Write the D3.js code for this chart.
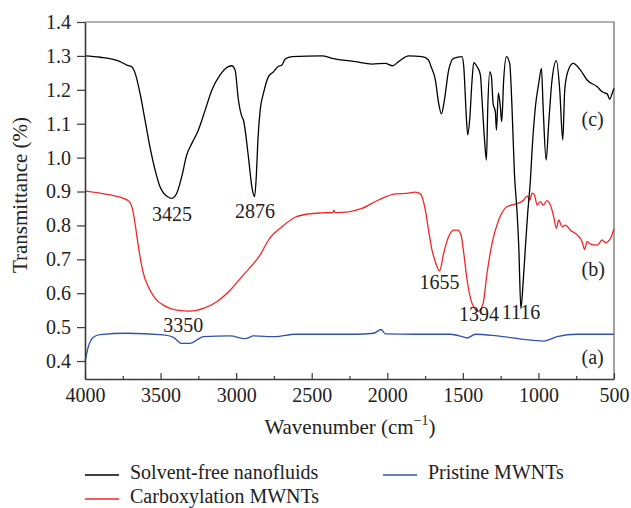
<!DOCTYPE html>
<html>
<head>
<meta charset="utf-8">
<script src="https://cdn.jsdelivr.net/npm/d3@7"></script>
<style>
  body { margin: 0; background: #fff; }
  text { font-family: "Liberation Serif", "Times New Roman", serif; fill: #222; }
</style>
</head>
<body>
<div class="canvas"></div>
<script>
// Spectrum (c) solvent-free nanofluids
const wnC = [4000, 3900, 3768, 3724, 3691, 3669, 3636, 3603, 3570, 3536, 3503, 3448, 3426, 3393, 3360, 3327, 3293, 3250, 3205, 3161, 3106, 3062, 3029, 3007, 2985, 2962, 2952, 2919, 2896, 2878, 2866, 2856, 2841, 2819, 2786, 2753, 2724, 2697, 2675, 2631, 2432, 2366, 2212, 2101, 2013, 1965, 1925, 1859, 1770, 1727, 1712, 1682, 1660, 1642, 1622, 1594, 1561, 1505, 1494, 1477, 1468, 1455, 1439, 1428, 1406, 1384, 1373, 1358, 1344, 1335, 1322, 1311, 1300, 1285, 1278, 1265, 1252, 1243, 1230, 1212, 1190, 1175, 1159, 1141, 1130, 1116, 1100, 1086, 1071, 1053, 1042, 1020, 998, 980, 969, 949, 932, 910, 881, 859, 839, 826, 806, 770, 722, 678, 611, 578, 545, 528, 512, 500];
const tC = [1.300, 1.296, 1.283, 1.273, 1.268, 1.250, 1.190, 1.111, 1.031, 0.963, 0.913, 0.883, 0.880, 0.895, 0.944, 1.008, 1.042, 1.081, 1.140, 1.199, 1.244, 1.266, 1.271, 1.258, 1.170, 1.121, 1.111, 1.003, 0.914, 0.885, 0.950, 1.052, 1.140, 1.190, 1.239, 1.253, 1.268, 1.273, 1.291, 1.298, 1.300, 1.293, 1.283, 1.276, 1.278, 1.271, 1.283, 1.300, 1.298, 1.288, 1.270, 1.229, 1.160, 1.129, 1.170, 1.258, 1.293, 1.298, 1.268, 1.121, 1.067, 1.111, 1.229, 1.280, 1.268, 1.244, 1.170, 1.062, 0.993, 1.150, 1.253, 1.239, 1.160, 1.135, 1.081, 1.191, 1.150, 1.106, 1.229, 1.298, 1.278, 1.150, 0.955, 0.836, 0.737, 0.555, 0.640, 0.737, 0.836, 0.934, 1.022, 1.150, 1.219, 1.263, 1.150, 0.993, 1.101, 1.229, 1.286, 1.199, 1.052, 1.199, 1.253, 1.278, 1.258, 1.229, 1.209, 1.194, 1.188, 1.172, 1.190, 1.204];

// Spectrum (b) carboxylation MWNTs
const wnB = [4000, 3901, 3812, 3746, 3707, 3684, 3669, 3653, 3636, 3614, 3581, 3536, 3470, 3393, 3305, 3217, 3128, 3040, 2952, 2880, 2841, 2786, 2697, 2609, 2521, 2432, 2360, 2353, 2345, 2256, 2168, 2058, 1947, 1859, 1815, 1781, 1748, 1727, 1704, 1680, 1654, 1627, 1594, 1561, 1534, 1512, 1494, 1472, 1439, 1395, 1366, 1340, 1307, 1263, 1208, 1152, 1097, 1075, 1057, 1042, 1026, 1009, 987, 969, 943, 921, 899, 881, 866, 843, 821, 788, 744, 711, 695, 678, 656, 611, 578, 556, 523, 500];
const tB = [0.901, 0.895, 0.888, 0.880, 0.870, 0.845, 0.806, 0.757, 0.708, 0.659, 0.619, 0.585, 0.562, 0.550, 0.547, 0.555, 0.575, 0.609, 0.654, 0.690, 0.713, 0.757, 0.796, 0.824, 0.834, 0.837, 0.838, 0.845, 0.838, 0.840, 0.850, 0.875, 0.893, 0.895, 0.898, 0.893, 0.845, 0.786, 0.727, 0.690, 0.666, 0.718, 0.767, 0.786, 0.786, 0.772, 0.718, 0.639, 0.570, 0.547, 0.570, 0.659, 0.747, 0.816, 0.855, 0.863, 0.875, 0.887, 0.875, 0.895, 0.890, 0.860, 0.870, 0.860, 0.873, 0.860, 0.826, 0.791, 0.816, 0.796, 0.801, 0.786, 0.772, 0.752, 0.729, 0.752, 0.745, 0.742, 0.757, 0.749, 0.762, 0.791];

// Spectrum (a) pristine MWNTs
const wnA = [4000, 3978, 3945, 3901, 3724, 3481, 3415, 3360, 3305, 3260, 3217, 3040, 2940, 2885, 2742, 2609, 2212, 2091, 2040, 2013, 1815, 1583, 1505, 1472, 1417, 1274, 1097, 965, 876, 744, 500];
const tA = [0.398, 0.442, 0.470, 0.478, 0.482, 0.477, 0.470, 0.452, 0.452, 0.462, 0.472, 0.474, 0.466, 0.474, 0.472, 0.479, 0.479, 0.482, 0.493, 0.480, 0.479, 0.479, 0.472, 0.468, 0.479, 0.474, 0.464, 0.459, 0.472, 0.479, 0.479];

const seriesNames = ['Solvent-free nanofluids', 'Carboxylation MWNTs', 'Pristine MWNTs'];
const seriesColors = ['#000000', '#f32626', '#2f53ad'];

const xTicks = [4000, 3500, 3000, 2500, 2000, 1500, 1000, 500];
const xMinor = [3750, 3250, 2750, 2250, 1750, 1250, 750];
const yTicks = [0.4, 0.5, 0.6, 0.7, 0.8, 0.9, 1.0, 1.1, 1.2, 1.3, 1.4];

// peak labels: text, wavenumber position, transmittance position
const peakText = ['3425', '2876', '3350', '1655', '1394', '1116'];
const peakWn = [3425, 2876, 3350, 1655, 1394, 1116];
const peakT = [0.812, 0.823, 0.485, 0.613, 0.518, 0.524];

const curveTags = ['(c)', '(b)', '(a)'];
const curveTagT = [1.094, 0.651, 0.392];

const width = 631, height = 508;
const margin = { top: 22, right: 17, bottom: 129, left: 85 };
const fontSize = 20;

const svg = d3.select('.canvas')
    .append('svg')
    .attr('width', width)
    .attr('height', height);

const x = d3.scaleLinear()
    .domain([4000, 500])
    .range([margin.left, width - margin.right]);

const y = d3.scaleLinear()
    .domain([0.347, 1.4])
    .range([height - margin.bottom, margin.top]);

const axisColor = '#3a3a3a';

// frame (top and right)
svg.append('path')
    .attr('d', `M${x(4000)},${y(1.4)}H${x(500)}V${y(0.347)}`)
    .attr('fill', 'none')
    .attr('stroke', '#666')
    .attr('stroke-width', 1.2);

// lines
const line = d3.line()
    .x(d => x(d[0]))
    .y(d => y(d[1]))
    .curve(d3.curveMonotoneX);

const zipped = [
    { wn: wnA, t: tA, color: seriesColors[2] },
    { wn: wnB, t: tB, color: seriesColors[1] },
    { wn: wnC, t: tC, color: seriesColors[0] }
];

svg.append('g')
    .selectAll('path')
    .data(zipped)
    .enter()
    .append('path')
        .attr('d', s => line(s.wn.map((w, i) => [w, s.t[i]])))
        .attr('fill', 'none')
        .attr('stroke', s => s.color)
        .attr('stroke-width', 1.3)
        .attr('stroke-linejoin', 'round');

// x axis, ticks pointing inward
svg.append('g')
    .attr('transform', `translate(0, ${y(0.347)})`)
    .call(d3.axisBottom(x).tickValues(xTicks).tickSizeInner(-6).tickSizeOuter(0).tickPadding(9).tickFormat(d3.format('d')));

svg.append('g')
    .attr('transform', `translate(0, ${y(0.347)})`)
    .call(d3.axisBottom(x).tickValues(xMinor).tickSizeInner(-3).tickSizeOuter(0).tickFormat(''))
    .select('.domain').remove();

// y axis, ticks outward
svg.append('g')
    .attr('transform', `translate(${margin.left}, 0)`)
    .call(d3.axisLeft(y).tickValues(yTicks).tickSizeInner(8).tickSizeOuter(0).tickPadding(6).tickFormat(d3.format('.1f')));

svg.selectAll('.domain').attr('stroke', axisColor).attr('stroke-width', 1.6);
svg.selectAll('.tick line').attr('stroke', axisColor).attr('stroke-width', 1.2);
svg.selectAll('.tick text')
    .attr('font-size', fontSize)
    .attr('font-family', '"Liberation Serif", serif')
    .attr('fill', '#222');

// axis titles
svg.append('text')
    .attr('transform', 'translate(27, 195) rotate(-90)')
    .attr('text-anchor', 'middle')
    .attr('font-size', 21)
    .text('Transmittance (%)');

const xLabel = svg.append('text')
    .attr('x', 350)
    .attr('y', 434)
    .attr('text-anchor', 'middle')
    .attr('font-size', 21);
xLabel.append('tspan').text('Wavenumber (cm');
xLabel.append('tspan').attr('dy', -9).attr('font-size', 14).text('\u22121');
xLabel.append('tspan').attr('dy', 9).text(')');

// peak annotations
svg.append('g')
    .selectAll('text')
    .data(peakText)
    .enter()
    .append('text')
        .attr('x', (d, i) => x(peakWn[i]))
        .attr('y', (d, i) => y(peakT[i]))
        .attr('text-anchor', 'middle')
        .attr('font-size', fontSize)
        .text(d => d);

// curve tags
svg.append('g')
    .selectAll('text')
    .data(curveTags)
    .enter()
    .append('text')
        .attr('x', x(715))
        .attr('y', (d, i) => y(curveTagT[i]))
        .attr('font-size', fontSize)
        .text(d => d);

// legend
const legendPos = [[85, 475], [85, 499], [383, 475]];
const legend = svg.append('g')
    .selectAll('g')
    .data(seriesNames)
    .enter()
    .append('g')
        .attr('transform', (d, i) => `translate(${legendPos[i][0]}, ${legendPos[i][1]})`);

legend.append('line')
    .attr('x1', 0).attr('x2', 34)
    .attr('stroke', (d, i) => seriesColors[i])
    .attr('stroke-width', 1.3);

legend.append('text')
    .attr('x', 45)
    .attr('y', 4)
    .attr('font-size', fontSize)
    .text(d => d);
</script>
</body>
</html>
